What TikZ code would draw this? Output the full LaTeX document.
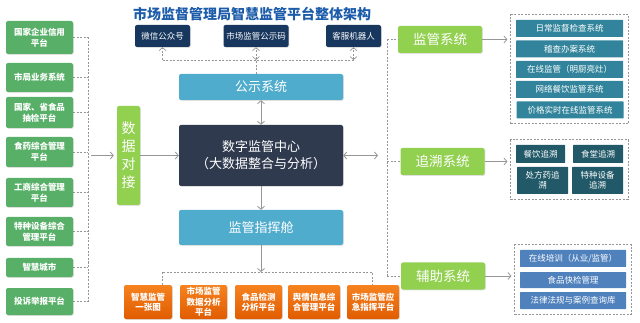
\documentclass[tikz,border=0pt]{standalone}
\usepackage{fontspec}
\setmainfont{Noto Sans CJK SC}
\usepackage{xcolor}
\usetikzlibrary{arrows.meta,positioning,fit,shadows}
\definecolor{TitleBlue}{RGB}{28,92,170}
\definecolor{NavyBox}{RGB}{23,55,94}
\definecolor{HubDark}{RGB}{47,58,79}
\definecolor{SkyBlue}{RGB}{80,172,205}
\definecolor{LeafGreen}{RGB}{146,208,80}
\definecolor{SrcGreen}{RGB}{88,176,104}
\definecolor{TealBox}{RGB}{49,132,155}
\definecolor{DeepTeal}{RGB}{33,89,104}
\definecolor{AuxBlue}{RGB}{79,129,189}
\definecolor{OrangeTop}{RGB}{246,130,32}
\definecolor{OrangeBot}{RGB}{224,92,0}
\definecolor{LineGray}{RGB}{150,150,150}

\begin{document}
\begin{tikzpicture}[x=1pt,y=-1pt,
    box/.style={rounded corners=2pt,text=white,align=center,inner sep=1pt,
      drop shadow={opacity=0.25,shadow xshift=0.8pt,shadow yshift=-0.8pt}},
    navy/.style={box,fill=NavyBox,minimum height=22pt,font=\fontsize{8.5}{10}\selectfont},
    sky/.style={box,fill=SkyBlue,minimum width=164pt,font=\fontsize{13}{15}\selectfont},
    hubbox/.style={box,fill=HubDark,minimum width=164pt,minimum height=61pt,font=\fontsize{13}{17}\selectfont},
    dockbox/.style={box,fill=LeafGreen,minimum width=23pt,minimum height=99pt,font=\fontsize{14}{18}\selectfont},
    srcbox/.style={box,fill=SrcGreen,minimum width=67pt,font=\fontsize{8.5}{11}\selectfont\bfseries},
    sysbox/.style={box,fill=LeafGreen,minimum width=84pt,minimum height=27pt,font=\fontsize{13.5}{15}\selectfont},
    appbox/.style={box,top color=OrangeTop,bottom color=OrangeBot,minimum height=34pt,font=\fontsize{8.5}{10.5}\selectfont\bfseries},
    itembox/.style={rounded corners=0.5pt,text=white,align=center,inner sep=1pt,font=\fontsize{8.5}{10.5}\selectfont},
    grp/.style={draw=LineGray,dash pattern=on 2pt off 1.5pt,line width=0.7pt,inner sep=5pt},
    dline/.style={draw=LineGray,dash pattern=on 2pt off 1.5pt,line width=0.7pt},
    arr/.style={draw=LineGray,line width=0.8pt,-{Straight Barb[length=3pt,width=7pt]}},
    tipboth/.style={{Straight Barb[length=3pt,width=7pt]}-{Straight Barb[length=3pt,width=7pt]}}]

  \useasboundingbox (0,0) rectangle (640,323);

  \node[font=\fontsize{14}{16}\selectfont\bfseries,text=TitleBlue] (title) at (252,14)
    {市场监督管理局智慧监管平台整体架构};

  \node[navy,minimum width=55pt] (wx) at (162.5,36) {微信公众号};
  \node[navy,minimum width=65pt] (qr) at (256,36) {市场监管公示码};
  \node[navy,minimum width=55pt] (bot) at (353.5,36) {客服机器人};

  \node[sky,minimum height=26pt] (pub) at (261,87) {公示系统};
  \node[hubbox] (hub) at (261,155.5) {数字监管中心\\（大数据整合与分析）};
  \node[sky,minimum height=35pt] (cmd) at (261,227.5) {监管指挥舱};

  \node[dockbox] (dock) at (128.5,155.5) {数\\据\\对\\接};

  \node[srcbox,minimum height=33pt] (L1) at (39.5,37.5) {国家企业信用\\平台};
  \node[srcbox,minimum height=29pt] (L2) at (39.5,77.5) {市局业务系统};
  \node[srcbox,minimum height=31pt] (L3) at (39.5,112.5) {国家、省食品\\抽检平台};
  \node[srcbox,minimum height=30pt] (L4) at (39.5,152) {食药综合管理\\平台};
  \node[srcbox,minimum height=29pt] (L5) at (39.5,192.5) {工商综合管理\\平台};
  \node[srcbox,minimum height=29pt] (L6) at (39.5,231.5) {特种设备综合\\管理平台};
  \node[srcbox,minimum height=19pt] (L7) at (39.5,267.5) {智慧城市};
  \node[srcbox,minimum height=27pt] (L8) at (39.5,301.5) {投诉举报平台};

  \node[appbox,minimum width=48pt] (O1) at (148,302) {智慧监管\\一张图};
  \node[appbox,minimum width=47pt] (O2) at (203.5,302) {市场监管\\数据分析\\平台};
  \node[appbox,minimum width=47pt] (O3) at (258.5,302) {食品检测\\分析平台};
  \node[appbox,minimum width=52pt] (O4) at (314,302) {舆情信息综\\合管理平台};
  \node[appbox,minimum width=52pt] (O5) at (373,302) {市场监管应\\急指挥平台};

  \node[sysbox] (R1) at (440,39.5) {监管系统};
  \node[sysbox] (R2) at (442.5,161.5) {追溯系统};
  \node[sysbox] (R3) at (443,276) {辅助系统};

  \node[itembox,fill=TealBox,minimum width=107pt,minimum height=17pt] (a1) at (569.5,28.5) {日常监督检查系统};
  \node[itembox,fill=TealBox,minimum width=107pt,minimum height=17pt] (a2) at (569.5,49) {稽查办案系统};
  \node[itembox,fill=TealBox,minimum width=107pt,minimum height=17pt] (a3) at (569.5,69.5) {在线监管（明厨亮灶）};
  \node[itembox,fill=TealBox,minimum width=107pt,minimum height=17pt] (a4) at (569.5,89.5) {网络餐饮监管系统};
  \node[itembox,fill=TealBox,minimum width=107pt,minimum height=17pt] (a5) at (570,110) {价格实时在线监管系统};
  \node[grp,fit=(a1)(a5)] (C1) {};

  \node[itembox,fill=DeepTeal,minimum width=49pt,minimum height=18pt] (b1) at (540.5,154) {餐饮追溯};
  \node[itembox,fill=DeepTeal,minimum width=50pt,minimum height=18pt] (b2) at (598,154) {食堂追溯};
  \node[itembox,fill=DeepTeal,minimum width=51pt,minimum height=27pt] (b3) at (542.5,180.5) {处方药追\\溯};
  \node[itembox,fill=DeepTeal,minimum width=51pt,minimum height=27pt] (b4) at (597.5,180.5) {特种设备\\追溯};
  \node[grp,fit=(b1)(b4)] (C2) {};

  \node[itembox,fill=AuxBlue,minimum width=106pt,minimum height=17pt] (c1) at (573,258.5) {在线培训（从业/监管）};
  \node[itembox,fill=AuxBlue,minimum width=106pt,minimum height=16pt] (c2) at (573,280) {食品快检管理};
  \node[itembox,fill=AuxBlue,minimum width=106pt,minimum height=17pt] (c3) at (573,300.5) {法律法规与案例查询库};
  \node[grp,fit=(c1)(c3)] (C3) {};

  \coordinate (busT) at (0,60);
  \draw[dline] (wx.south |- busT) -- (bot.south |- busT);
  \draw[dline] (qr.south |- pub.north) -- (qr.south |- busT);
  \draw[dline,-{Straight Barb[length=3pt,width=7pt]}] (wx.south |- busT) -- (wx.south);
  \draw[dline,tipboth] (qr.south |- busT) -- (qr.south);
  \draw[dline,tipboth] (bot.south |- busT) -- (bot.south);

  \draw[arr,tipboth] (pub.south) -- (hub.north);
  \draw[arr] (hub.south) -- (cmd.north);

  \coordinate (busL) at (88,0);
  \draw[dline] (L1.east -| busL) -- (L8.east -| busL);
  \draw[dline] (L1.east) -- (L1.east -| busL);
  \draw[dline] (L2.east) -- (L2.east -| busL);
  \draw[dline] (L3.east) -- (L3.east -| busL);
  \draw[dline] (L4.east) -- (L4.east -| busL);
  \draw[dline] (L5.east) -- (L5.east -| busL);
  \draw[dline] (L6.east) -- (L6.east -| busL);
  \draw[dline] (L7.east) -- (L7.east -| busL);
  \draw[dline] (L8.east) -- (L8.east -| busL);
  \draw[arr,shorten <=3pt,shorten >=3pt] (dock.west -| busL) -- (dock.west);
  \draw[arr] (dock.east) -- (hub.west);

  \coordinate (busR) at (387,0);
  \draw[dline] (R1.west -| busR) -- (R3.west -| busR);
  \draw[dline] (R1.west -| busR) -- (R1.west);
  \draw[dline] (R2.west -| busR) -- (R2.west);
  \draw[dline] (R3.west -| busR) -- (R3.west);
  \draw[arr,tipboth,shorten >=9pt] (hub.east) -- (hub.east -| busR);

  \draw[arr,shorten >=3pt] (R1.east) -- (R1.east -| C1.west);
  \draw[arr,shorten >=3pt] (R2.east) -- (R2.east -| C2.west);
  \draw[arr,shorten >=3pt] (R3.east) -- (R3.east -| C3.west);

  \coordinate (busBl) at (162,272);
  \coordinate (busBr) at (372,272);
  \draw[arr] (cmd.south) -- (cmd.south |- busBl);
  \draw[dline] (busBl |- O1.north) -- (busBl) -- (busBr) -- (busBr |- O5.north);
\end{tikzpicture}
\end{document}
